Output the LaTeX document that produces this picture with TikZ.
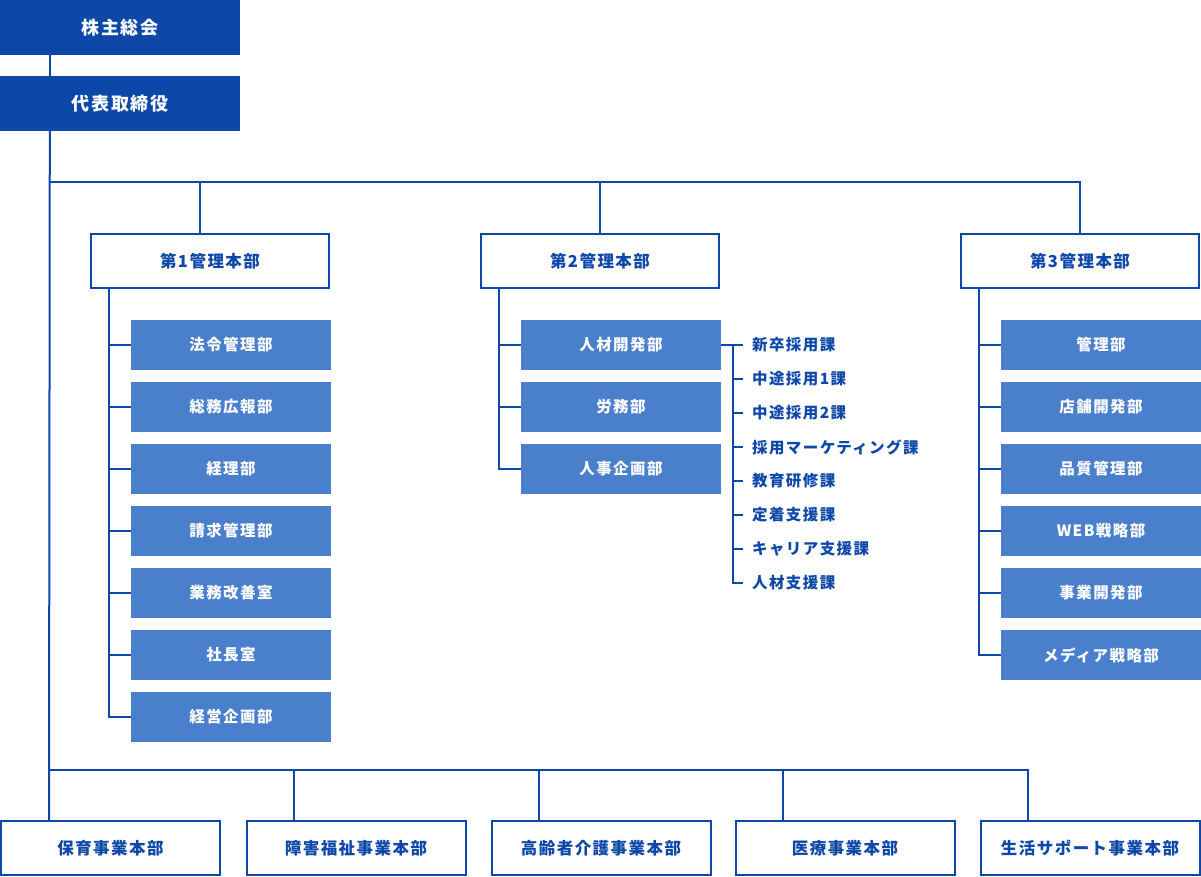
\documentclass[tikz,border=0pt]{standalone}
\usepackage{fontspec}
\setmainfont{Noto Sans CJK JP}[LetterSpace=9]
\definecolor{dk}{HTML}{0D48A8}
\definecolor{md}{HTML}{4A7FCC}
\tikzset{
  topbox/.style={fill=dk, text=white, minimum width=240, minimum height=55, inner sep=0,
    font=\bfseries\fontsize{18}{21}\selectfont},
  hqbox/.style={draw=dk, line width=2, fill=white, text=dk, minimum width=238, minimum height=54,
    inner sep=0, font=\bfseries\fontsize{16.5}{19}\selectfont},
  divbox/.style={draw=dk, line width=2, fill=white, text=dk, minimum width=219, minimum height=54,
    inner sep=0, font=\bfseries\fontsize{16.5}{19}\selectfont},
  subbox/.style={fill=md, text=white, minimum width=200, minimum height=50, inner sep=0,
    font=\bfseries\fontsize{15.5}{18}\selectfont},
  secitem/.style={text=dk, anchor=west, inner sep=0, font=\bfseries\fontsize{15.5}{18}\selectfont},
  ln/.style={draw=dk, line width=2}
}
\begin{document}
\begin{tikzpicture}[x=1pt,y=-1pt]
\useasboundingbox (0,0) rectangle (1201,877);
% top
\node[topbox] (top1) at (120,27.5) {株主総会};
\node[topbox] (top2) at (120,103.5) {代表取締役};
% headquarters
\node[hqbox] (h1) at (210,261) {第1管理本部};
\node[hqbox] (h2) at (600,261) {第2管理本部};
\node[hqbox] (h3) at (1080,261) {第3管理本部};
% h1 subs
\foreach \n/\t [count=\i from 0] in {a/法令管理部,b/総務広報部,c/経理部,d/請求管理部,e/業務改善室,f/社長室,g/経営企画部}{
  \node[subbox] (s1\n) at (231,345+62*\i) {\t};
  \draw[ln] ([xshift=19]h1.south west) |- (s1\n.west);
}
% h2 subs
\foreach \n/\t [count=\i from 0] in {a/人材開発部,b/労務部,c/人事企画部}{
  \node[subbox] (s2\n) at (621,345+62*\i) {\t};
  \draw[ln] ([xshift=19]h2.south west) |- (s2\n.west);
}
% h3 subs
\foreach \n/\t [count=\i from 0] in {a/管理部,b/店舗開発部,c/品質管理部,d/WEB戦略部,e/事業開発部,f/メディア戦略部}{
  \node[subbox] (s3\n) at (1101,345+62*\i) {\t};
  \draw[ln] ([xshift=19]h3.south west) |- (s3\n.west);
}
% sections of 人材開発部
\draw[ln] (s2a.east) -- ([xshift=12]s2a.east);
\foreach \n/\t [count=\i from 0] in {a/新卒採用課,b/中途採用1課,c/中途採用2課,d/採用マーケティング課,e/教育研修課,f/定着支援課,g/キャリア支援課,h/人材支援課}{
  \node[secitem] (k\n) at (752,345+34*\i) {\t};
  \draw[ln] ([xshift=12]s2a.east) |- ([xshift=-9]k\n.west);
}
% bottom divisions
\node[divbox] (b1) at (110.5,848) {保育事業本部};
\node[divbox] (b2) at (356,848) {障害福祉事業本部};
\node[divbox] (b3) at (601,848) {高齢者介護事業本部};
\node[divbox] (b4) at (845,848) {医療事業本部};
\node[divbox] (b5) at (1090,848) {生活サポート事業本部};
% connectors
\draw[ln] ([xshift=50]top1.south west) -- ([xshift=50]top2.north west);
\draw[ln] ([xshift=50]top2.south west) -- ([xshift=49]b1.north west);
\coordinate (tA) at (50,182);
\draw[ln] (tA) -| (h3.north);
\draw[ln] ([xshift=-10]h1.north) -- ([xshift=-10]h1.north |- tA);
\draw[ln] (h2.north) -- (h2.north |- tA);
\coordinate (bA) at (50,770);
\draw[ln] (bA) -| ([xshift=48]b5.north west);
\draw[ln] ([xshift=48]b2.north west) -- ([xshift=48]b2.north west |- bA);
\draw[ln] ([xshift=48]b3.north west) -- ([xshift=48]b3.north west |- bA);
\draw[ln] ([xshift=48]b4.north west) -- ([xshift=48]b4.north west |- bA);
\end{tikzpicture}
\end{document}
